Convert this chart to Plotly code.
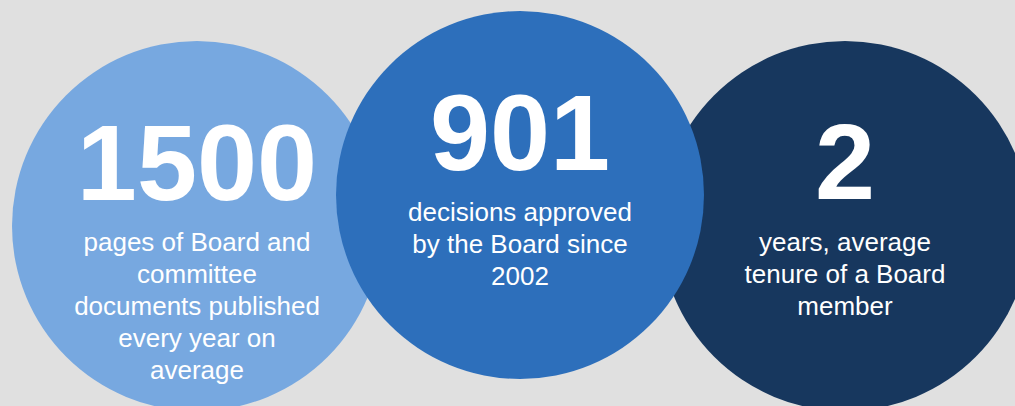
import plotly.graph_objects as go

# ---- data ----
values = ["1500", "901", "2"]
labels = [
    "pages of Board and<br>committee<br>documents published<br>every year on<br>average",
    "decisions approved<br>by the Board since<br>2002",
    "years, average<br>tenure of a Board<br>member",
]
colors = ["#77a8e0", "#2d6fbb", "#17375e"]

# ---- layout constants (pixel space) ----
W, H = 1015, 406
centers_x = [197, 520, 845]
centers_y = [226, 195, 226]
radius = [185, 184, 185]
value_y = [173, 143, 172]
label_first_y = [244, 214, 244]
line_gap = 32
draw_order = [0, 2, 1]
FONT = "Liberation Sans, Arial, sans-serif"

fig = go.Figure()

for i in draw_order:
    fig.add_shape(
        type="circle", xref="x", yref="y",
        x0=centers_x[i] - radius[i], x1=centers_x[i] + radius[i],
        y0=centers_y[i] - radius[i], y1=centers_y[i] + radius[i],
        fillcolor=colors[i], line=dict(width=0), layer="below",
    )

fig.add_trace(go.Scatter(
    x=centers_x, y=value_y, text=values, mode="text",
    textposition="middle center",
    textfont=dict(family=FONT, size=108, color="white", weight="bold"),
    hoverinfo="skip", showlegend=False,
))

lx, ly, lt = [], [], []
for i, lab in enumerate(labels):
    for j, line in enumerate(lab.split("<br>")):
        lx.append(centers_x[i])
        ly.append(label_first_y[i] + j * line_gap)
        lt.append(line)

fig.add_trace(go.Scatter(
    x=lx, y=ly, text=lt, mode="text",
    textposition="middle center",
    textfont=dict(family=FONT, size=26, color="white"),
    hoverinfo="skip", showlegend=False,
))

fig.update_layout(
    width=W, height=H, margin=dict(l=0, r=0, t=0, b=0),
    paper_bgcolor="#e0e0e0", plot_bgcolor="#e0e0e0",
    xaxis=dict(range=[0, W], visible=False, fixedrange=True),
    yaxis=dict(range=[H, 0], visible=False, fixedrange=True),
    showlegend=False,
)

fig.write_html(
    "out.html",
    config={"displayModeBar": False},
    post_script="document.body.style.margin='0';document.body.style.padding='0';"
                "document.body.style.overflow='hidden';",
)
